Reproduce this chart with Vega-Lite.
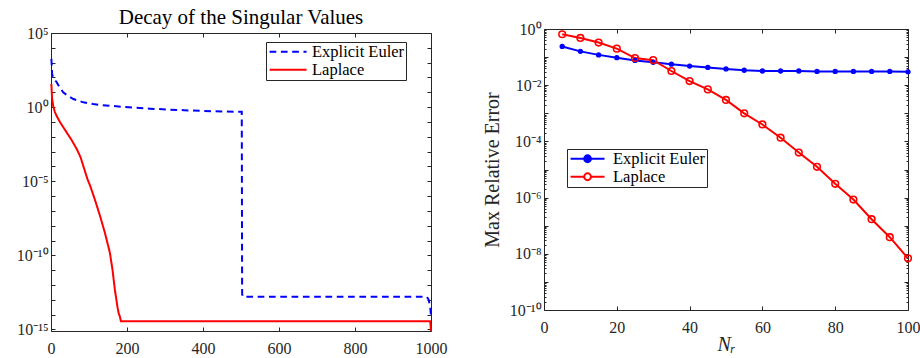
{
  "$schema": "https://vega.github.io/schema/vega-lite/v6.json",
  "autosize": {"type": "pad"},
  "padding": {"left": 16, "top": 7, "right": 5, "bottom": 2},
  "config": {
    "font": "Liberation Serif",
    "view": {"stroke": null},
    "axis": {
      "domainColor": "#262626", "domainWidth": 1,
      "tickColor": "#262626", "tickWidth": 1, "tickSize": -4,
      "labelColor": "#262626", "labelFont": "Liberation Serif", "labelFontSize": 16,
      "titleFont": "Liberation Serif", "titleFontWeight": "normal", "titleColor": "#262626", "titleFontSize": 20,
      "grid": false, "labelFlush": false, "labelOverlap": false
    },
    "axisX": {"labelPadding": 13.5},
    "axisY": {"labelPadding": 7},
    "legend": {
      "labelFont": "Liberation Serif", "labelFontSize": 16.5, "labelColor": "#000000",
      "strokeColor": "#262626", "fillColor": "#ffffff", "padding": 1.5,
      "labelOffset": 28, "rowPadding": 1, "symbolStrokeWidth": 2
    },
    "title": {"font": "Liberation Serif", "fontSize": 21, "fontWeight": "normal", "color": "#000000"}
  },
  "datasets": {
    "sv": [
      {"series": "Explicit Euler", "n": 1, "sv": 1800},
      {"series": "Explicit Euler", "n": 2, "sv": 631},
      {"series": "Explicit Euler", "n": 3, "sv": 174},
      {"series": "Explicit Euler", "n": 5, "sv": 112},
      {"series": "Explicit Euler", "n": 8, "sv": 79},
      {"series": "Explicit Euler", "n": 15, "sv": 48},
      {"series": "Explicit Euler", "n": 22, "sv": 23},
      {"series": "Explicit Euler", "n": 32, "sv": 10},
      {"series": "Explicit Euler", "n": 45, "sv": 5.6},
      {"series": "Explicit Euler", "n": 59, "sv": 3.5},
      {"series": "Explicit Euler", "n": 85, "sv": 2.1},
      {"series": "Explicit Euler", "n": 111, "sv": 1.6},
      {"series": "Explicit Euler", "n": 129, "sv": 1.41},
      {"series": "Explicit Euler", "n": 160, "sv": 1.2},
      {"series": "Explicit Euler", "n": 216, "sv": 0.93},
      {"series": "Explicit Euler", "n": 260, "sv": 0.79},
      {"series": "Explicit Euler", "n": 305, "sv": 0.69},
      {"series": "Explicit Euler", "n": 350, "sv": 0.62},
      {"series": "Explicit Euler", "n": 392, "sv": 0.56},
      {"series": "Explicit Euler", "n": 450, "sv": 0.51},
      {"series": "Explicit Euler", "n": 502, "sv": 0.48},
      {"series": "Explicit Euler", "n": 503, "sv": 2.5e-13},
      {"series": "Explicit Euler", "n": 505, "sv": 1.6e-13},
      {"series": "Explicit Euler", "n": 989, "sv": 1.6e-13},
      {"series": "Explicit Euler", "n": 994, "sv": 1e-13},
      {"series": "Explicit Euler", "n": 998, "sv": 3.2e-14},
      {"series": "Explicit Euler", "n": 1000, "sv": 7.9e-15},
      {"series": "Laplace", "n": 1, "sv": 36},
      {"series": "Laplace", "n": 2, "sv": 10},
      {"series": "Laplace", "n": 3, "sv": 3.5},
      {"series": "Laplace", "n": 6, "sv": 1.12},
      {"series": "Laplace", "n": 10, "sv": 0.48},
      {"series": "Laplace", "n": 15, "sv": 0.25},
      {"series": "Laplace", "n": 24, "sv": 0.095},
      {"series": "Laplace", "n": 32, "sv": 0.045},
      {"series": "Laplace", "n": 41, "sv": 0.02},
      {"series": "Laplace", "n": 55, "sv": 0.0056},
      {"series": "Laplace", "n": 68, "sv": 0.00145},
      {"series": "Laplace", "n": 78, "sv": 0.0004},
      {"series": "Laplace", "n": 85, "sv": 0.000107},
      {"series": "Laplace", "n": 96, "sv": 1.38e-5},
      {"series": "Laplace", "n": 103, "sv": 5e-6},
      {"series": "Laplace", "n": 115, "sv": 6.3e-7},
      {"series": "Laplace", "n": 129, "sv": 4.6e-8},
      {"series": "Laplace", "n": 142, "sv": 3.2e-9},
      {"series": "Laplace", "n": 155, "sv": 1.5e-10},
      {"series": "Laplace", "n": 162, "sv": 1e-11},
      {"series": "Laplace", "n": 168, "sv": 5e-13},
      {"series": "Laplace", "n": 175, "sv": 3.2e-14},
      {"series": "Laplace", "n": 178, "sv": 1.26e-14},
      {"series": "Laplace", "n": 181, "sv": 7.9e-15},
      {"series": "Laplace", "n": 184, "sv": 3.6e-15},
      {"series": "Laplace", "n": 998, "sv": 3.6e-15},
      {"series": "Laplace", "n": 1000, "sv": 7.9e-16}
    ],
    "err": [
      {"series": "Explicit Euler", "nr": 5, "err": 0.24},
      {"series": "Explicit Euler", "nr": 10, "err": 0.16},
      {"series": "Explicit Euler", "nr": 15, "err": 0.12},
      {"series": "Explicit Euler", "nr": 20, "err": 0.095},
      {"series": "Explicit Euler", "nr": 25, "err": 0.076},
      {"series": "Explicit Euler", "nr": 30, "err": 0.065},
      {"series": "Explicit Euler", "nr": 35, "err": 0.056},
      {"series": "Explicit Euler", "nr": 40, "err": 0.048},
      {"series": "Explicit Euler", "nr": 45, "err": 0.043},
      {"series": "Explicit Euler", "nr": 50, "err": 0.038},
      {"series": "Explicit Euler", "nr": 55, "err": 0.034},
      {"series": "Explicit Euler", "nr": 60, "err": 0.032},
      {"series": "Explicit Euler", "nr": 65, "err": 0.032},
      {"series": "Explicit Euler", "nr": 70, "err": 0.032},
      {"series": "Explicit Euler", "nr": 75, "err": 0.031},
      {"series": "Explicit Euler", "nr": 80, "err": 0.031},
      {"series": "Explicit Euler", "nr": 85, "err": 0.031},
      {"series": "Explicit Euler", "nr": 90, "err": 0.031},
      {"series": "Explicit Euler", "nr": 95, "err": 0.031},
      {"series": "Explicit Euler", "nr": 100, "err": 0.030},
      {"series": "Laplace", "nr": 5, "err": 0.65},
      {"series": "Laplace", "nr": 10, "err": 0.48},
      {"series": "Laplace", "nr": 15, "err": 0.33},
      {"series": "Laplace", "nr": 20, "err": 0.20},
      {"series": "Laplace", "nr": 25, "err": 0.092},
      {"series": "Laplace", "nr": 30, "err": 0.078},
      {"series": "Laplace", "nr": 35, "err": 0.032},
      {"series": "Laplace", "nr": 40, "err": 0.014},
      {"series": "Laplace", "nr": 45, "err": 0.0071},
      {"series": "Laplace", "nr": 50, "err": 0.0030},
      {"series": "Laplace", "nr": 55, "err": 0.0010},
      {"series": "Laplace", "nr": 60, "err": 0.00040},
      {"series": "Laplace", "nr": 65, "err": 0.000135},
      {"series": "Laplace", "nr": 70, "err": 0.000040},
      {"series": "Laplace", "nr": 75, "err": 0.0000125},
      {"series": "Laplace", "nr": 80, "err": 3.1e-6},
      {"series": "Laplace", "nr": 85, "err": 8.5e-7},
      {"series": "Laplace", "nr": 90, "err": 1.7e-7},
      {"series": "Laplace", "nr": 95, "err": 3.9e-8},
      {"series": "Laplace", "nr": 100, "err": 6.9e-9}
    ]
  },
  "bounds": "flush",
  "spacing": 113,
  "resolve": {"scale": {"color": "independent", "strokeDash": "independent"}, "legend": {"color": "independent", "strokeDash": "independent"}},
  "hconcat": [
    {
      "width": 380, "height": 302,
      "title": {"text": "Decay of the Singular Values", "offset": -3},
      "data": {"name": "sv"},
      "layer": [
        {
          "transform": [{"filter": "datum.series == 'Explicit Euler'"}],
          "mark": {"type": "line", "strokeWidth": 2},
          "encoding": {
            "x": {"field": "n", "type": "quantitative", "scale": {"domain": [0, 1000], "nice": false},
                  "axis": {"orient": "bottom", "values": [0, 200, 400, 600, 800, 1000], "format": "d", "title": null}},
            "y": {"field": "sv", "type": "quantitative", "scale": {"type": "log", "domain": [7.9e-16, 100000], "nice": false, "range": [302, 4]},
                  "axis": {"orient": "left", "title": null,
                           "values": [1e-15, 1e-14, 1e-13, 1e-12, 1e-11, 1e-10, 1e-9, 1e-8, 1e-7, 1e-6, 1e-5, 1e-4, 1e-3, 1e-2, 1e-1, 1, 10, 100, 1000, 10000, 100000],
                           "labelExpr": "round(log(datum.value)/LN10) % 5 != 0 ? '' : '10' + replace(replace(replace(replace(toString(round(log(datum.value)/LN10)), '-', '⁻'), '0', '⁰'), '1', '¹'), '5', '⁵')"}},
            "color": {"field": "series", "type": "nominal",
                      "scale": {"domain": ["Explicit Euler", "Laplace"], "range": ["#0000ff", "#ff0000"]},
                      "legend": {"orient": "none", "legendX": 215, "legendY": 13, "title": null, "symbolType": "M-1,0H5", "symbolSize": 152}},
            "strokeDash": {"field": "series", "type": "nominal",
                      "scale": {"domain": ["Explicit Euler", "Laplace"], "range": [[6.7, 4.6], [1, 0]]},
                      "legend": {"orient": "none", "legendX": 215, "legendY": 13, "title": null, "symbolType": "M-1,0H5", "symbolSize": 152}}
          }
        },
        {
          "transform": [{"filter": "datum.series == 'Laplace'"}],
          "mark": {"type": "line", "strokeWidth": 2},
          "encoding": {
            "x": {"field": "n", "type": "quantitative", "scale": {"domain": [0, 1000], "nice": false},
                  "axis": {"orient": "top", "offset": -4, "values": [0, 200, 400, 600, 800, 1000], "labels": false, "title": null}},
            "y": {"field": "sv", "type": "quantitative", "scale": {"type": "log", "domain": [7.9e-16, 100000], "nice": false, "range": [302, 4]},
                  "axis": {"orient": "right", "title": null, "labels": false,
                           "values": [1e-15, 1e-14, 1e-13, 1e-12, 1e-11, 1e-10, 1e-9, 1e-8, 1e-7, 1e-6, 1e-5, 1e-4, 1e-3, 1e-2, 1e-1, 1, 10, 100, 1000, 10000, 100000]}},
            "color": {"field": "series", "type": "nominal",
                      "scale": {"domain": ["Explicit Euler", "Laplace"], "range": ["#0000ff", "#ff0000"]},
                      "legend": {"orient": "none", "legendX": 215, "legendY": 13, "title": null, "symbolType": "M-1,0H5", "symbolSize": 152}},
            "strokeDash": {"field": "series", "type": "nominal",
                      "scale": {"domain": ["Explicit Euler", "Laplace"], "range": [[6.7, 4.6], [1, 0]]},
                      "legend": {"orient": "none", "legendX": 215, "legendY": 13, "title": null, "symbolType": "M-1,0H5", "symbolSize": 152}}
          }
        }
      ],
      "resolve": {"axis": {"x": "independent", "y": "independent"}}
    },
    {
      "width": 364, "height": 281,
      "data": {"name": "err"},
      "layer": [
        {
          "transform": [{"filter": "datum.series == 'Explicit Euler'"}],
          "mark": {"type": "line", "strokeWidth": 2},
          "encoding": {
            "x": {"field": "nr", "type": "quantitative", "scale": {"domain": [0, 100], "nice": false},
                  "axis": {"orient": "bottom", "values": [0, 20, 40, 60, 80, 100], "title": "Nᵣ", "titleFontStyle": "italic", "titleFontSize": 20, "titlePadding": -1.5}},
            "y": {"field": "err", "type": "quantitative", "scale": {"type": "log", "domain": [1e-10, 1], "nice": false},
                  "axis": {"orient": "left", "title": "Max Relative Error", "titlePadding": 7,
                           "values": [1e-10, 1e-9, 1e-8, 1e-7, 1e-6, 1e-5, 1e-4, 1e-3, 1e-2, 1e-1, 1],
                           "labelExpr": "round(log(datum.value)/LN10) % 2 != 0 ? '' : '10' + replace(replace(replace(replace(replace(replace(replace(toString(round(log(datum.value)/LN10)), '-', '⁻'), '0', '⁰'), '1', '¹'), '2', '²'), '4', '⁴'), '6', '⁶'), '8', '⁸')"}},
            "color": {"field": "series", "type": "nominal",
                      "scale": {"domain": ["Explicit Euler", "Laplace"], "range": ["#0000ff", "#ff0000"]},
                      "legend": {"orient": "none", "legendX": 23, "legendY": 120, "title": null,
                                 "symbolType": "M-1,0H1.2M2.31,0H4.51M1.205,0A0.55,0.55,0,1,1,2.305,0A0.55,0.55,0,1,1,1.205,0Z", "symbolSize": 152,
                                 "encode": {"symbols": {"update": {"fill": {"signal": "datum.value === 'Laplace' ? '#ffffff' : '#0000ff'"}}}}}}
          }
        },
        {
          "transform": [{"filter": "datum.series == 'Laplace'"}],
          "mark": {"type": "line", "strokeWidth": 2},
          "encoding": {
            "x": {"field": "nr", "type": "quantitative", "scale": {"domain": [0, 100], "nice": false},
                  "axis": {"orient": "top", "values": [0, 20, 40, 60, 80, 100], "labels": false, "title": null}},
            "y": {"field": "err", "type": "quantitative", "scale": {"type": "log", "domain": [1e-10, 1], "nice": false},
                  "axis": {"orient": "right", "title": null, "labels": false,
                           "values": [1e-10, 1e-9, 1e-8, 1e-7, 1e-6, 1e-5, 1e-4, 1e-3, 1e-2, 1e-1, 1]}},
            "color": {"field": "series", "type": "nominal",
                      "scale": {"domain": ["Explicit Euler", "Laplace"], "range": ["#0000ff", "#ff0000"]},
                      "legend": {"orient": "none", "legendX": 23, "legendY": 120, "title": null,
                                 "symbolType": "M-1,0H1.2M2.31,0H4.51M1.205,0A0.55,0.55,0,1,1,2.305,0A0.55,0.55,0,1,1,1.205,0Z", "symbolSize": 152,
                                 "encode": {"symbols": {"update": {"fill": {"signal": "datum.value === 'Laplace' ? '#ffffff' : '#0000ff'"}}}}}}
          }
        },
        {
          "transform": [{"filter": "datum.series == 'Explicit Euler'"}],
          "mark": {"type": "point", "filled": true, "color": "#0000ff", "size": 28, "opacity": 1},
          "encoding": {
            "x": {"field": "nr", "type": "quantitative", "scale": {"domain": [0, 100], "nice": false}, "axis": null},
            "y": {"field": "err", "type": "quantitative", "scale": {"type": "log", "domain": [1e-10, 1], "nice": false},
                  "axis": {"orient": "left", "title": null, "labels": false, "domain": false, "tickSize": -2,
                           "values": [2e-10,3e-10,4e-10,5e-10,6e-10,7e-10,8e-10,9e-10,2e-9,3e-9,4e-9,5e-9,6e-9,7e-9,8e-9,9e-9,2e-8,3e-8,4e-8,5e-8,6e-8,7e-8,8e-8,9e-8,2e-7,3e-7,4e-7,5e-7,6e-7,7e-7,8e-7,9e-7,2e-6,3e-6,4e-6,5e-6,6e-6,7e-6,8e-6,9e-6,2e-5,3e-5,4e-5,5e-5,6e-5,7e-5,8e-5,9e-5,2e-4,3e-4,4e-4,5e-4,6e-4,7e-4,8e-4,9e-4,2e-3,3e-3,4e-3,5e-3,6e-3,7e-3,8e-3,9e-3,2e-2,3e-2,4e-2,5e-2,6e-2,7e-2,8e-2,9e-2,0.2,0.3,0.4,0.5,0.6,0.7,0.8,0.9]}}
          }
        },
        {
          "transform": [{"filter": "datum.series == 'Laplace'"}],
          "mark": {"type": "point", "filled": false, "color": "#ff0000", "size": 44, "strokeWidth": 1.6, "opacity": 1},
          "encoding": {
            "x": {"field": "nr", "type": "quantitative", "scale": {"domain": [0, 100], "nice": false}, "axis": null},
            "y": {"field": "err", "type": "quantitative", "scale": {"type": "log", "domain": [1e-10, 1], "nice": false},
                  "axis": {"orient": "right", "title": null, "labels": false, "domain": false, "tickSize": -2,
                           "values": [2e-10,3e-10,4e-10,5e-10,6e-10,7e-10,8e-10,9e-10,2e-9,3e-9,4e-9,5e-9,6e-9,7e-9,8e-9,9e-9,2e-8,3e-8,4e-8,5e-8,6e-8,7e-8,8e-8,9e-8,2e-7,3e-7,4e-7,5e-7,6e-7,7e-7,8e-7,9e-7,2e-6,3e-6,4e-6,5e-6,6e-6,7e-6,8e-6,9e-6,2e-5,3e-5,4e-5,5e-5,6e-5,7e-5,8e-5,9e-5,2e-4,3e-4,4e-4,5e-4,6e-4,7e-4,8e-4,9e-4,2e-3,3e-3,4e-3,5e-3,6e-3,7e-3,8e-3,9e-3,2e-2,3e-2,4e-2,5e-2,6e-2,7e-2,8e-2,9e-2,0.2,0.3,0.4,0.5,0.6,0.7,0.8,0.9]}}
          }
        }
      ],
      "resolve": {"axis": {"x": "independent", "y": "independent"}}
    }
  ]
}
